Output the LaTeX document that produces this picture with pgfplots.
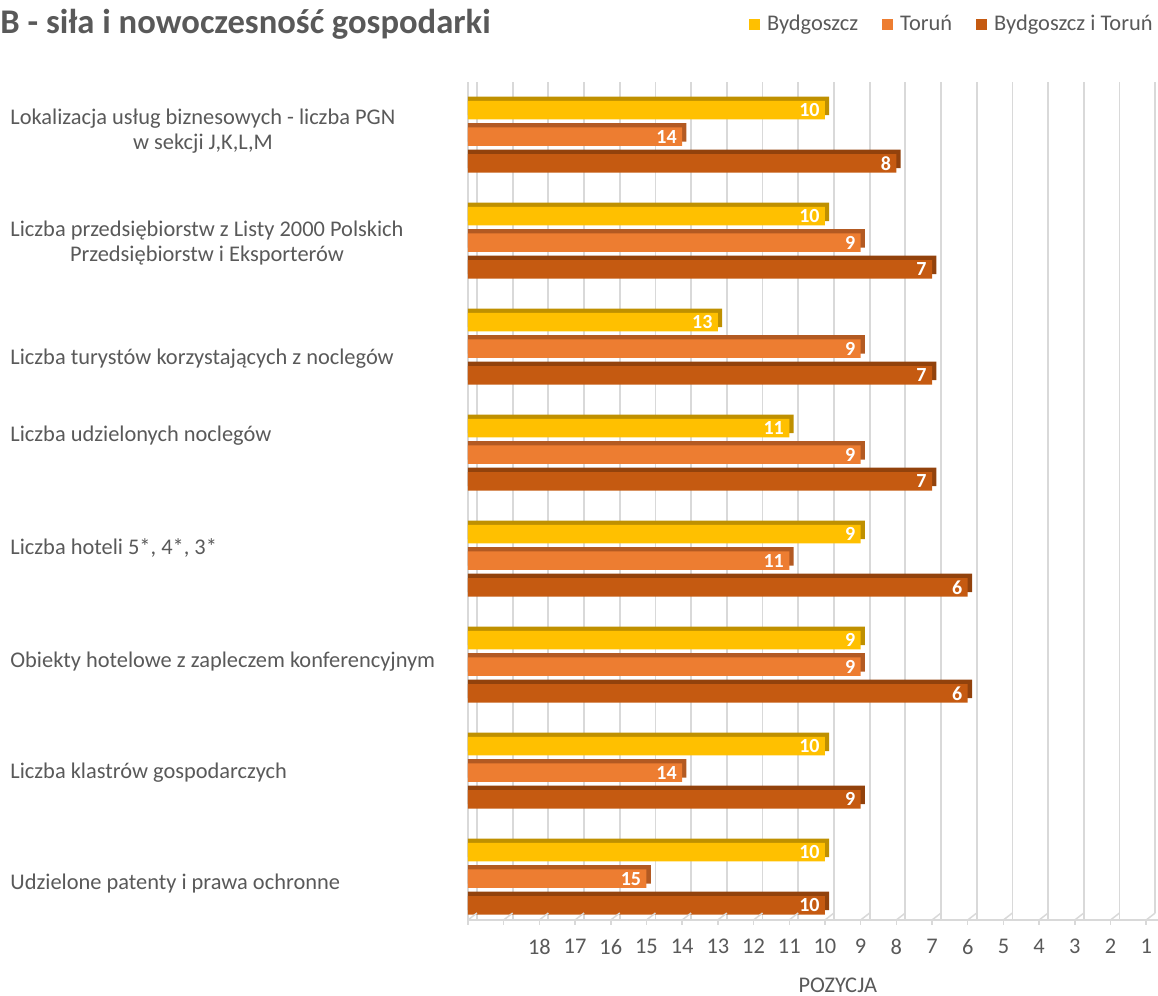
\documentclass[border=0pt]{standalone}
\usepackage{pgfplots}
\pgfplotsset{compat=1.18}
\usepackage{pgfplotstable}
\usepackage{fontspec}
\setmainfont{Carlito}
\definecolor{cY}{HTML}{FFC000}
\definecolor{cYd}{HTML}{BF9000}
\definecolor{cO}{HTML}{ED7D31}
\definecolor{cOd}{HTML}{B35A22}
\definecolor{cD}{HTML}{C55A11}
\definecolor{cDd}{HTML}{92420C}
\definecolor{txt}{HTML}{595959}
\definecolor{gridc}{HTML}{D9D9D9}
\pgfplotstableread{
c b t bt
7 10 14 8
6 10 9 7
5 13 9 7
4 11 9 7
3 9 11 6
2 9 9 6
1 10 14 9
0 10 15 10
}\data
\begin{document}
\begin{tikzpicture}
\useasboundingbox (-234pt,-38pt) rectangle (345pt,460pt);
\begin{axis}[
  at={(0,0)}, anchor=south west,
  scale only axis, width=345pt, height=419pt,
  xmin=0, xmax=19.33, ymin=-0.39, ymax=7.516,
  clip=false,
  /pgf/number format/assume math mode=true,
  axis x line*=bottom, axis y line*=left,
  axis line style={draw=gridc, line width=0.75pt, -},
  xtick={0,...,19},
  xticklabels={,,18,17,16,15,14,13,12,11,10,9,8,7,6,5,4,3,2,1},
  xtick style={draw=gridc, line width=0.75pt},
  tick align=outside, major tick length=2.5pt,
  xticklabel style={font=\fontsize{11.2}{13}\selectfont, text=txt, inner sep=0pt, yshift=-7pt},
  xmajorgrids,
  major x grid style={draw=gridc, line width=0.9pt, xshift=4.5pt, shorten <=3.5pt},
  ytick={-0.05,1,2.05,3.12,4.18,4.91,6,7.05},
  yticklabels={Udzielone patenty i prawa ochronne,
    Liczba klastrów gospodarczych,
    Obiekty hotelowe z zapleczem konferencyjnym,
    {Liczba hoteli 5*, 4*, 3*},
    Liczba udzielonych noclegów,
    Liczba turystów korzystających z noclegów,
    {Liczba przedsiębiorstw z Listy 2000 Polskich\\Przedsiębiorstw i Eksporterów},
    {Lokalizacja usług biznesowych - liczba PGN\\w sekcji J,K,L,M}},
  ytick style={draw=none},
  yticklabel style={anchor=west, inner sep=0pt, xshift=-226.5pt, align=center,
    font=\fontsize{11.2}{12.5}\selectfont, text=txt},
  xlabel={POZYCJA},
  xlabel style={font=\fontsize{11.2}{13}\selectfont, text=txt,
    at={(axis description cs:0.536,0)}, anchor=center, yshift=-32.5pt},
  bar width=9.25pt,
  legend columns=3,
  legend style={at={(axis description cs:0.9928,1.069)}, anchor=east,
    draw=none, fill=none, inner xsep=0pt, inner ysep=0pt,
    font=\fontsize{11.2}{13}\selectfont, text=txt,
    nodes={inner sep=0pt},
    /tikz/every odd column/.append style={column sep=3.5pt},
    /tikz/every even column/.append style={column sep=12pt}},
  every node near coord/.append style={font=\bfseries\fontsize{10}{12}\selectfont, text=white, anchor=east, inner sep=0pt, xshift=-2.5pt},
]
% back (3D depth) faces
\addplot[xbar, fill=cYd, draw=none, bar shift=15.45pt, forget plot] table[x expr=20-\thisrow{b}+0.12, y=c]{\data};
\addplot[xbar, fill=cOd, draw=none, bar shift=2.15pt, forget plot] table[x expr=20-\thisrow{t}+0.12, y=c]{\data};
\addplot[xbar, fill=cDd, draw=none, bar shift=-11.15pt, forget plot] table[x expr=20-\thisrow{bt}+0.12, y=c]{\data};
% front faces
\addplot[xbar, fill=cY, draw=none, bar shift=13.3pt, point meta=explicit, nodes near coords,
  nodes near coords style={yshift=13.3pt},
  legend image code/.code={\fill[cY] (0pt,-2.75pt) rectangle (5.5pt,2.75pt);}]
  table[x expr=20-\thisrow{b}, y=c, meta=b]{\data};
\addlegendentry{Bydgoszcz}
\addplot[xbar, fill=cO, draw=none, bar shift=0pt, point meta=explicit, nodes near coords,
  legend image code/.code={\fill[cO] (0pt,-2.75pt) rectangle (5.5pt,2.75pt);}]
  table[x expr=20-\thisrow{t}, y=c, meta=t]{\data};
\addlegendentry{Toruń}
\addplot[xbar, fill=cD, draw=none, bar shift=-13.3pt, point meta=explicit, nodes near coords,
  nodes near coords style={yshift=-13.3pt},
  legend image code/.code={\fill[cD] (0pt,-2.75pt) rectangle (5.5pt,2.75pt);}]
  table[x expr=20-\thisrow{bt}, y=c, meta=bt]{\data};
\addlegendentry{Bydgoszcz i Toruń}
\pgfplotsinvokeforeach{0,...,19}{\draw[gridc, line width=0.75pt] (axis cs:#1,-0.39) -- ++(4.5pt,3.5pt);}
\end{axis}
\node[anchor=west, inner sep=0pt, font=\bfseries\fontsize{17.3}{20}\selectfont, text=txt] at (-234pt,448pt) {B - siła i nowoczesność gospodarki};
\end{tikzpicture}
\end{document}
